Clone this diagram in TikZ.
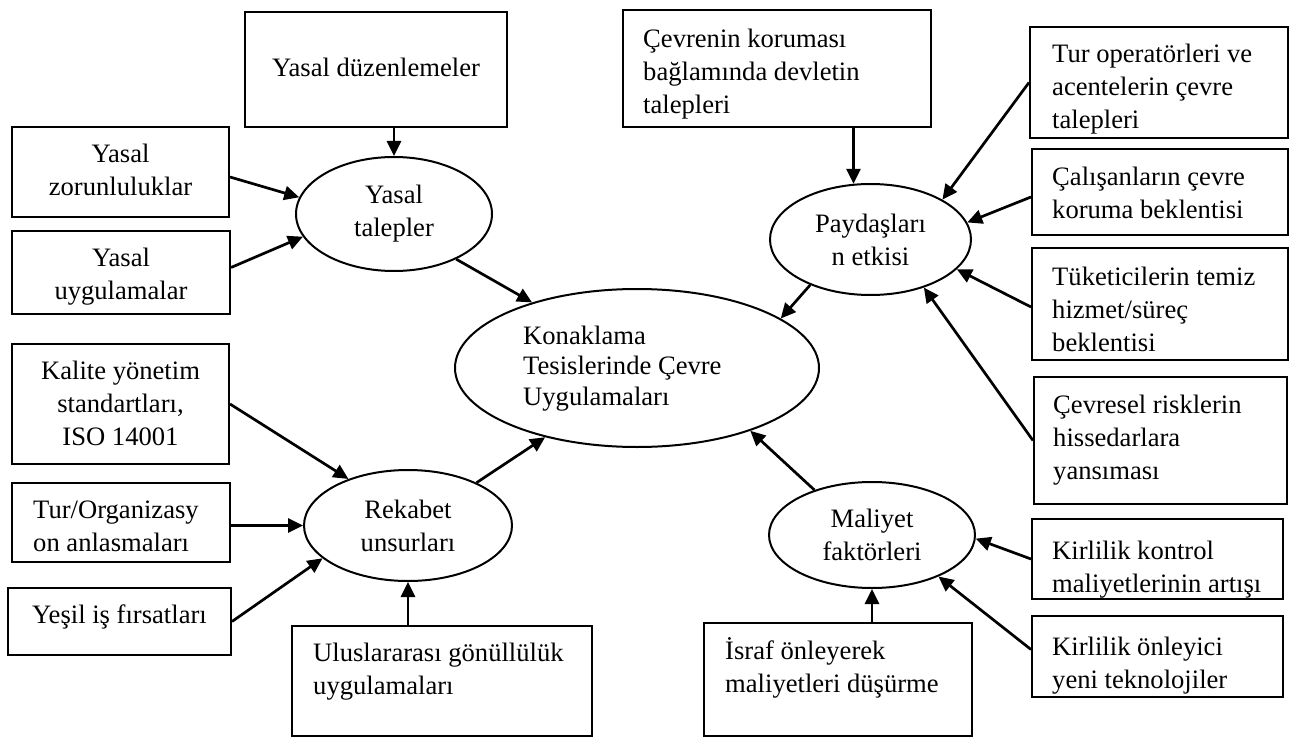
\documentclass[tikz,border=0pt]{standalone}
\usepackage{fontspec}
\setmainfont{Liberation Serif}
\usetikzlibrary{arrows.meta,shapes.geometric}
\newcommand{\diafont}{\fontsize{26.6}{33}\selectfont}
\newcommand{\centrefont}{\fontsize{26.6}{30.5}\selectfont}
\begin{document}
\begin{tikzpicture}[x=1pt,y=-1pt,
  box/.style={draw, line width=2pt, inner sep=0pt},
  oval/.style={draw, ellipse, line width=2pt, inner sep=0pt, align=center, font=\diafont},
  txt/.style={inner sep=0pt, font=\diafont},
  link/.style={line width=2.7pt, -{Triangle[length=15pt,width=14pt]}}]
\useasboundingbox (0,0) rectangle (1290,738);

% ---------- central factor ellipses ----------
\node[oval, minimum width=196pt, minimum height=114pt] (yt)  at (394,214)     {Yasal\\talepler};
\node[oval, minimum width=201pt, minimum height=111pt] (pay) at (870.5,239.5) {Paydaşları\\n etkisi};
\node[oval, minimum width=208pt, minimum height=111pt] (rek) at (408,525.5)   {Rekabet\\unsurları};
\node[oval, minimum width=206pt, minimum height=106pt] (mal) at (872,535)     {Maliyet\\faktörleri};
\node[oval, minimum width=364pt, minimum height=158pt] (kon) at (637,368)     {};
\node[txt, anchor=north west, align=left, font=\centrefont] (kon-t) at (523,322.6)
  {\strut Konaklama\\Tesislerinde Çevre\\Uygulamaları};

% ---------- boxes on the left ----------
\node[box, minimum width=262pt, minimum height=115pt] (dz)  at (376,69.5)   {};
\node[box, minimum width=217pt, minimum height=90pt]  (zor) at (120.5,172)  {};
\node[box, minimum width=218pt, minimum height=83pt]  (uyg) at (121,272.5)  {};
\node[box, minimum width=217pt, minimum height=120pt] (kal) at (120.5,404)  {};
\node[box, minimum width=218pt, minimum height=79pt]  (tor) at (121,522.5)  {};
\node[box, minimum width=223pt, minimum height=67pt]  (yes) at (119.5,621.5){};
\node[box, minimum width=300pt, minimum height=110pt] (ulu) at (442,681)    {};

\node[txt, anchor=north] (dz-t) at (376,52.9) {\strut Yasal düzenlemeler};
\node[txt, anchor=north, align=center] (zor-t) at (120.5,138.9) {\strut Yasal\\zorunluluklar};
\node[txt, anchor=north, align=center] (uyg-t) at (121,242.9) {\strut Yasal\\uygulamalar};
\node[txt, anchor=north, align=center] (kal-t) at (120.5,355.9) {\strut Kalite yönetim\\standartları,\\ISO 14001};
\node[txt, anchor=north west, align=left] (tor-t) at (33,494.9) {\strut Tur/Organizasy\\on anlasmaları};
\node[txt, anchor=north] (yes-t) at (119.5,599.9) {\strut Yeşil iş fırsatları};
\node[txt, anchor=north west, align=left] (ulu-t) at (313,637.9) {\strut Uluslararası gönüllülük\\uygulamaları};

% ---------- boxes on the right ----------
\node[box, minimum width=308pt, minimum height=117pt] (cev) at (777,68.5)    {};
\node[box, minimum width=258pt, minimum height=111pt] (top) at (1159,82.5)   {};
\node[box, minimum width=256pt, minimum height=86pt]  (cal) at (1160,192)    {};
\node[box, minimum width=256pt, minimum height=112pt] (tuk) at (1160,304)    {};
\node[box, minimum width=253pt, minimum height=127pt] (cvr) at (1160.5,440.5){};
\node[box, minimum width=251pt, minimum height=80pt]  (kk)  at (1157.5,559)  {};
\node[box, minimum width=251pt, minimum height=81pt]  (ko)  at (1157.5,656.5){};
\node[box, minimum width=268pt, minimum height=113pt] (isr) at (838,679.5)   {};

\node[txt, anchor=north west, align=left] (cev-t) at (643,23.9)
  {\strut Çevrenin koruması\\bağlamında devletin\\talepleri};
\begin{scope}
  \clip (top.south west) rectangle (top.north east);
  \node[txt, anchor=north west, align=left] (top-t) at (1052,38.9)
    {\strut Tur operatörleri ve\\acentelerin çevre\\talepleri};
\end{scope}
\node[txt, anchor=north west, align=left] (cal-t) at (1052,161.9)
  {\strut Çalışanların çevre\\koruma beklentisi};
\node[txt, anchor=north west, align=left] (tuk-t) at (1052,261.9)
  {\strut Tüketicilerin temiz\\hizmet/süreç\\beklentisi};
\node[txt, anchor=north west, align=left] (cvr-t) at (1053,389.9)
  {\strut Çevresel risklerin\\hissedarlara\\yansıması};
\begin{scope}
  \clip (kk.south west) rectangle (kk.north east);
  \node[txt, anchor=north west, align=left] (kk-t) at (1052,535.9)
    {\strut Kirlilik kontrol\\maliyetlerinin artışı};
\end{scope}
\begin{scope}
  \clip (ko.south west) rectangle (ko.north east);
  \node[txt, anchor=north west, align=left] (ko-t) at (1052,631.9)
    {\strut Kirlilik önleyici\\yeni teknolojiler};
\end{scope}
\node[txt, anchor=north west, align=left] (isr-t) at (725,635.9)
  {\strut İsraf önleyerek\\maliyetleri düşürme};

% ---------- connectors ----------
\draw[link] (dz.south -| yt.north) -- (yt.north);
\draw[link] ([yshift=-5pt]zor.east) -- (yt.170);
\draw[link] ([yshift=5pt]uyg.east) -- (yt.194);
\draw[link] (yt.-36) -- (kon.148);

\draw[link] (cev.south -| pay.107) -- (pay.107);
\draw[link] (top.west) -- (pay.29);
\draw[link] ([yshift=-5pt]cal.west) -- (pay.10);
\draw[link] ([yshift=-3pt]tuk.west) -- (pay.-19);
\draw[link] (cvr.west) -- (pay.-42);
\draw[link] (pay.217) -- (kon.19);

\draw[link] (kal.east) -- (rek.142);
\draw[link] (tor.east |- rek.west) -- (rek.west);
\draw[link] (yes.east) -- (rek.201);
\draw[link] (ulu.north -| rek.south) -- (rek.south);
\draw[link] (rek.32) -- (kon.217);

\draw[link] (mal.142) -- (kon.-29);
\draw[link] (isr.north -| mal.south) -- (mal.south);
\draw[link] (kk.west) -- (mal.-2);
\draw[link] ([yshift=7pt]ko.west) -- (mal.-32);
\end{tikzpicture}
\end{document}
